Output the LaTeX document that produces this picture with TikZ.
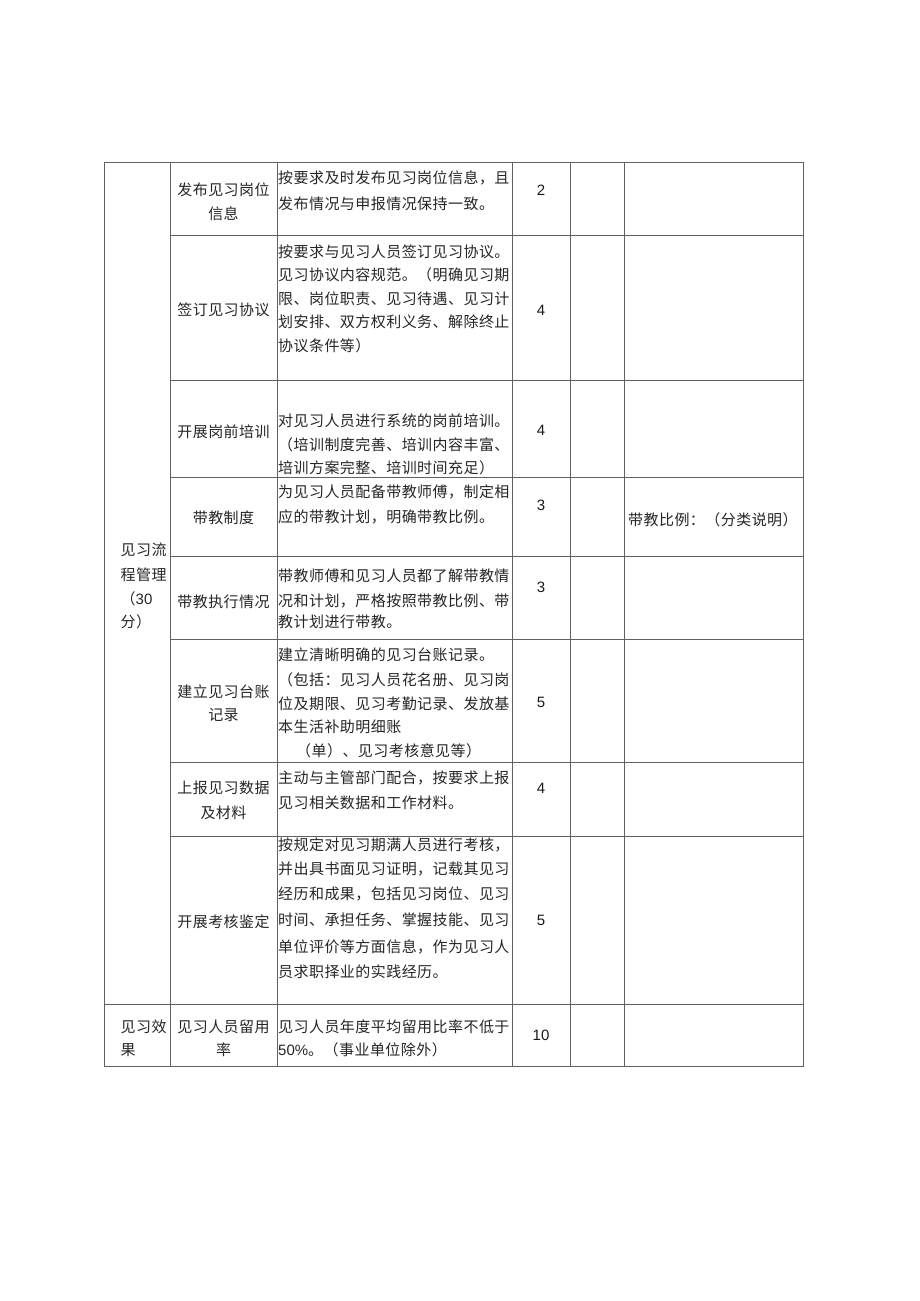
\documentclass[tikz,border=0pt]{standalone}
\usepackage{fontspec}
\setmainfont{Liberation Sans}
\newfontfamily\cjk[LetterSpace=3]{Noto Sans CJK SC}
\begin{document}
\begin{tikzpicture}[x=1pt,y=-1pt,
  gridline/.style={draw=black!62, line width=0.9pt},
  desc/.style={anchor=base west, inner sep=0pt, text=black!85, font=\cjk\fontsize{15}{18}\selectfont},
  lab/.style={anchor=base, inner sep=0pt, text=black!85, font=\cjk\fontsize{15}{18}\selectfont},
  labw/.style={anchor=base west, inner sep=0pt, text=black!85, font=\cjk\fontsize{15}{18}\selectfont},
  num/.style={anchor=base, inner sep=0pt, text=black!90, font=\fontsize{15}{18}\selectfont}]
\useasboundingbox[fill=white] (0,0) rectangle (920,1301);
% grid
\draw[gridline] (104,162) rectangle (803.5,1066);
\foreach \x in {170,277,512,570.5,624} \draw[gridline] (\x,162) -- (\x,1066);
\foreach \y in {235,380,477,556,639,762,836} \draw[gridline] (170,\y) -- (803.5,\y);
\draw[gridline] (104,1004) -- (803.5,1004);
% left column
\node[labw] (g1a) at (120.5,555.5) {见习流};
\node[labw] (g1b) at (120.5,580) {程管理};
\node[labw] (g1c) at (120.5,604) {（\fontspec{Liberation Sans}30};
\node[labw] (g1d) at (120.5,627) {分）};
\node[labw] (g2a) at (120.5,1032) {见习效};
\node[labw] (g2b) at (120.5,1055.5) {果};
% row 1
\node[lab] (r1a) at (223.5,195.5) {发布见习岗位};
\node[lab] (r1b) at (223.5,219.5) {信息};
\node[desc] (d1a) at (278,183.5) {按要求及时发布见习岗位信息，且};
\node[desc] (d1b) at (278,209) {发布情况与申报情况保持一致。};
\node[num] (n1) at (541,195.5) {2};
% row 2
\node[lab] (r2a) at (223.5,315.5) {签订见习协议};
\node[desc] (d2a) at (278,257) {按要求与见习人员签订见习协议。};
\node[desc] (d2b) at (278,280) {见习协议内容规范。（明确见习期};
\node[desc] (d2c) at (278,304) {限、岗位职责、见习待遇、见习计};
\node[desc] (d2d) at (278,327.5) {划安排、双方权利义务、解除终止};
\node[desc] (d2e) at (278,351.5) {协议条件等）};
\node[num] (n2) at (541,315.5) {4};
% row 3
\node[lab] (r3a) at (223.5,437) {开展岗前培训};
\node[desc] (d3a) at (278,426.5) {对见习人员进行系统的岗前培训。};
\node[desc] (d3b) at (278,450) {（培训制度完善、培训内容丰富、};
\node[desc] (d3c) at (278,473) {培训方案完整、培训时间充足）};
\node[num] (n3) at (541,435.5) {4};
% row 4
\node[lab] (r4a) at (223.5,523) {带教制度};
\node[desc] (d4a) at (278,497) {为见习人员配备带教师傅，制定相};
\node[desc] (d4b) at (278,522) {应的带教计划，明确带教比例。};
\node[num] (n4) at (541,510.5) {3};
\node[desc] (c4) at (628,525.5) {带教比例：（分类说明）};
% row 5
\node[lab] (r5a) at (223.5,607) {带教执行情况};
\node[desc] (d5a) at (278,581.5) {带教师傅和见习人员都了解带教情};
\node[desc] (d5b) at (278,606) {况和计划，严格按照带教比例、带};
\node[desc] (d5c) at (278,627.5) {教计划进行带教。};
\node[num] (n5) at (541,592) {3};
% row 6
\node[lab] (r6a) at (223.5,697) {建立见习台账};
\node[lab] (r6b) at (223.5,720.5) {记录};
\node[desc] (d6a) at (278,660.5) {建立清晰明确的见习台账记录。};
\node[desc] (d6b) at (278,685) {（包括：见习人员花名册、见习岗};
\node[desc] (d6c) at (278,709) {位及期限、见习考勤记录、发放基};
\node[desc] (d6d) at (278,732.5) {本生活补助明细账};
\node[desc] (d6e) at (296,756) {（单）、见习考核意见等）};
\node[num] (n6) at (541,707) {5};
% row 7
\node[lab] (r7a) at (223.5,793.5) {上报见习数据};
\node[lab] (r7b) at (223.5,818.5) {及材料};
\node[desc] (d7a) at (278,783.5) {主动与主管部门配合，按要求上报};
\node[desc] (d7b) at (278,808.5) {见习相关数据和工作材料。};
\node[num] (n7) at (541,793.5) {4};
% row 8
\node[lab] (r8a) at (223.5,927) {开展考核鉴定};
\node[desc] (d8a) at (278,850.5) {按规定对见习期满人员进行考核，};
\node[desc] (d8b) at (278,874) {并出具书面见习证明，记载其见习};
\node[desc] (d8c) at (278,899) {经历和成果，包括见习岗位、见习};
\node[desc] (d8d) at (278,925.5) {时间、承担任务、掌握技能、见习};
\node[desc] (d8e) at (278,952) {单位评价等方面信息，作为见习人};
\node[desc] (d8f) at (278,977) {员求职择业的实践经历。};
\node[num] (n8) at (541,925.5) {5};
% row 9
\node[lab] (r9a) at (223.5,1032) {见习人员留用};
\node[lab] (r9b) at (223.5,1055.5) {率};
\node[desc] (d9a) at (278,1032) {见习人员年度平均留用比率不低于};
\node[desc] (d9b) at (278,1055.5) {\fontspec{Liberation Sans}50\%\cjk 。（事业单位除外）};
\node[num] (n9) at (541,1040.5) {10};
\end{tikzpicture}
\end{document}
